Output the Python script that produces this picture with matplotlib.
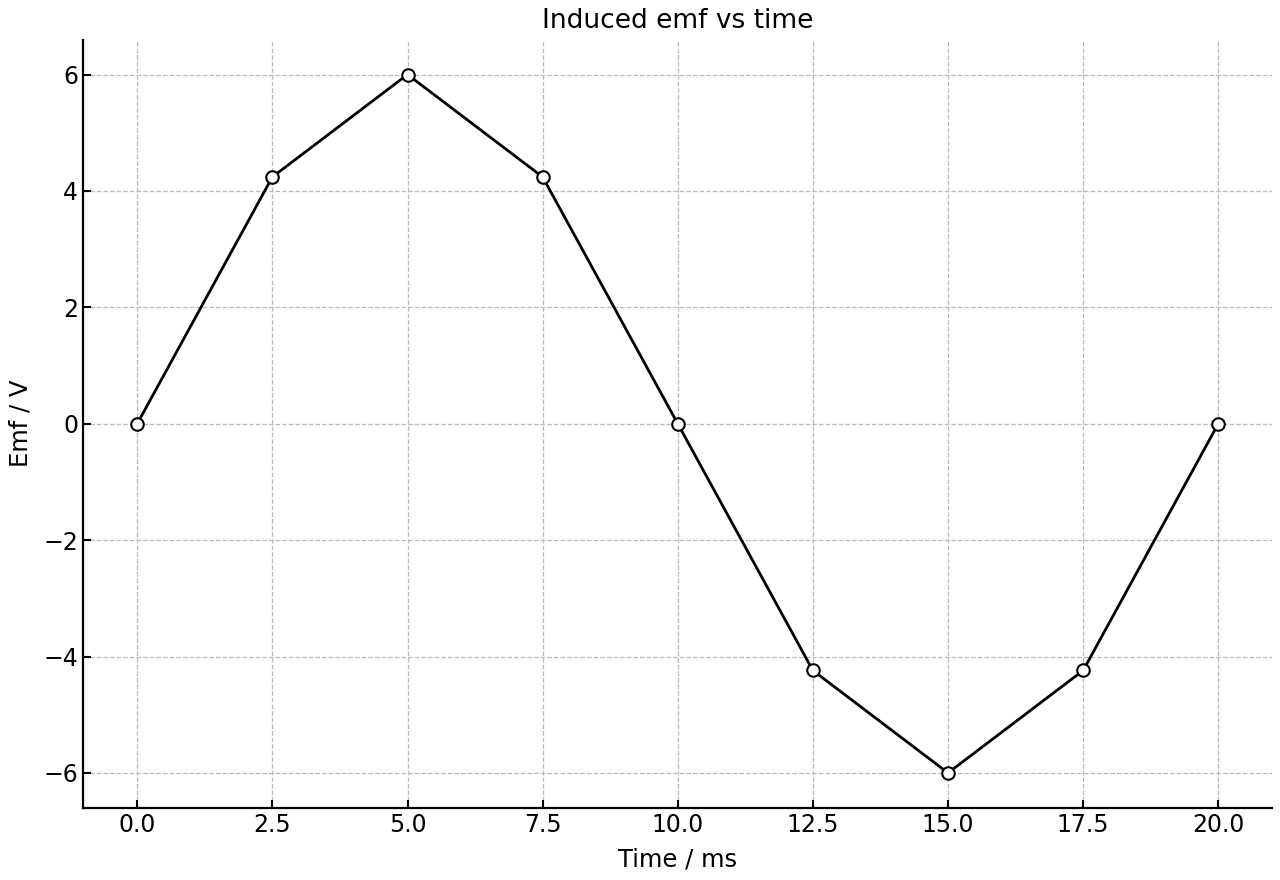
import matplotlib
matplotlib.use("Agg")
import matplotlib.pyplot as plt

# time in ms, emf in V
time_ms = [0.0, 2.5, 5.0, 7.5, 10.0, 12.5, 15.0, 17.5, 20.0]
emf_v = [0.0, 4.24, 6.0, 4.24, 0.0, -4.24, -6.0, -4.24, 0.0]

fig, ax = plt.subplots(figsize=(12.8, 8.8), dpi=100)
fig.subplots_adjust(left=0.065, right=0.994, top=0.955, bottom=0.082)

ax.plot(time_ms, emf_v, color="black", linewidth=2,
        marker="o", markersize=9, markerfacecolor="white",
        markeredgecolor="black", markeredgewidth=1.5, zorder=3)

ax.set_title("Induced emf vs time", fontsize=19, pad=8)
ax.set_xlabel("Time / ms", fontsize=17.5, labelpad=8)
ax.set_ylabel("Emf / V", fontsize=17.5, labelpad=8)
ax.set_xticks(time_ms)
ax.set_yticks([-6, -4, -2, 0, 2, 4, 6])
ax.tick_params(direction="in", labelsize=17, length=6, width=1.5)
ax.grid(True, linestyle="--", color="#bbbbbb", linewidth=0.9)
ax.spines["top"].set_visible(False)
ax.spines["right"].set_visible(False)
ax.spines["left"].set_linewidth(1.6)
ax.spines["bottom"].set_linewidth(1.6)

fig.savefig("out.png")
